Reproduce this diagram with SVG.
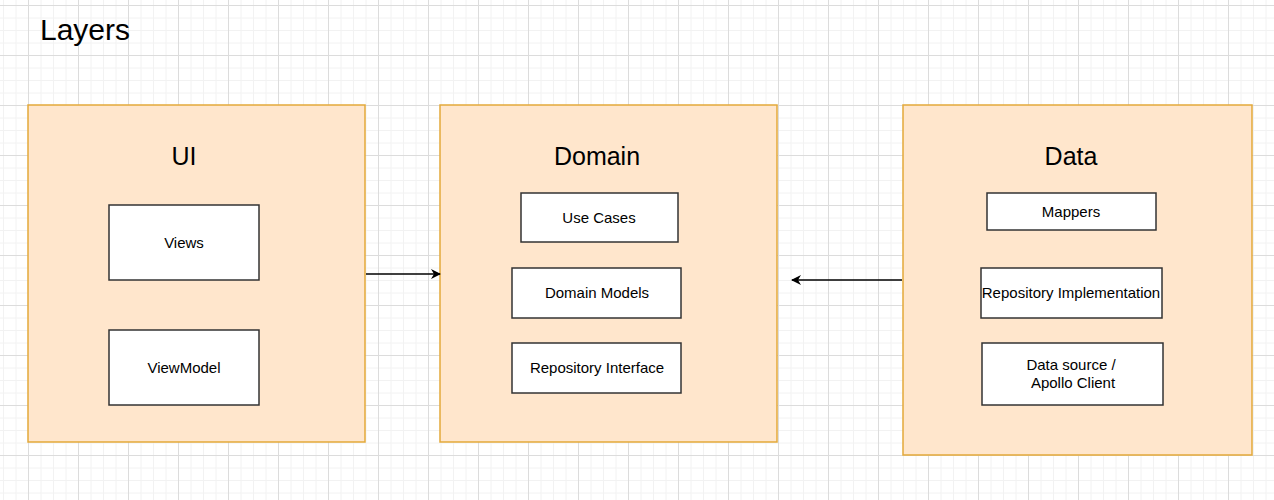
<svg xmlns="http://www.w3.org/2000/svg" width="1274" height="500" viewBox="0 0 1274 500">
<defs>
<pattern id="grid" width="50" height="50" x="28" y="5" patternUnits="userSpaceOnUse">
<path d="M0 13H50M0 25.5H50M0 38H50M13 0V50M25.5 0V50M38 0V50" fill="none" stroke="#f2f2f2" stroke-width="1"/>
<path d="M0 0.5H50M0.5 0V50" fill="none" stroke="#dcdcdc" stroke-width="1"/>
</pattern>
<marker id="arr" viewBox="0 0 10 10" refX="9" refY="5" markerWidth="10" markerHeight="10" markerUnits="userSpaceOnUse" orient="auto">
<path d="M0 0L10 5L0 10L3 5Z" fill="#000"/>
</marker>
<style>
.layer{fill:#ffe6cc;stroke:#e3a93a;stroke-width:1.5}
.item{fill:#fff;stroke:#333;stroke-width:1.5}
.title{font-family:"Liberation Sans",Arial,sans-serif;font-size:25px;text-anchor:middle;fill:#000}
.lbl{font-family:"Liberation Sans",Arial,sans-serif;font-size:15px;text-anchor:middle;fill:#000}
.conn{stroke:#000;stroke-width:1.3;fill:none}
</style>
</defs>
<rect width="1274" height="500" fill="#fff"/>
<rect width="1274" height="500" fill="url(#grid)"/>
<text x="40" y="40" font-family="Liberation Sans,Arial,sans-serif" font-size="30" fill="#000">Layers</text>
<g id="ui">
<rect class="layer" x="28" y="105" width="337" height="337"/>
<text class="title" x="184" y="165">UI</text>
</g>
<g id="views"><rect class="item" x="109" y="205" width="150" height="75"/><text class="lbl" x="184" y="248">Views</text></g>
<g id="viewmodel"><rect class="item" x="109" y="330" width="150" height="75"/><text class="lbl" x="184" y="373">ViewModel</text></g>
<g id="domain">
<rect class="layer" x="440" y="105" width="337" height="337"/>
<text class="title" x="597" y="165">Domain</text>
</g>
<g id="usecases"><rect class="item" x="521" y="193" width="157" height="49"/><text class="lbl" x="599" y="223">Use Cases</text></g>
<g id="domainmodels"><rect class="item" x="512" y="268" width="169" height="50"/><text class="lbl" x="597" y="298">Domain Models</text></g>
<g id="repointerface"><rect class="item" x="512" y="343" width="169" height="50"/><text class="lbl" x="597" y="373">Repository Interface</text></g>
<g id="data">
<rect class="layer" x="903" y="105" width="349" height="350"/>
<text class="title" x="1071" y="165">Data</text>
</g>
<g id="mappers"><rect class="item" x="987" y="193" width="169" height="37"/><text class="lbl" x="1071" y="217">Mappers</text></g>
<g id="repoimpl"><rect class="item" x="981" y="268" width="181" height="50"/><text class="lbl" x="1071" y="298">Repository Implementation</text></g>
<g id="datasource"><rect class="item" x="982" y="343" width="181" height="62"/><text class="lbl" x="1071" y="370">Data source /</text><text class="lbl" x="1073" y="388"> Apollo Client</text></g>
<g id="connectors">
<line class="conn" x1="366" y1="274" x2="440" y2="274" marker-end="url(#arr)"/>
<line class="conn" x1="902" y1="280" x2="792" y2="280" marker-end="url(#arr)"/>
</g>
</svg>
